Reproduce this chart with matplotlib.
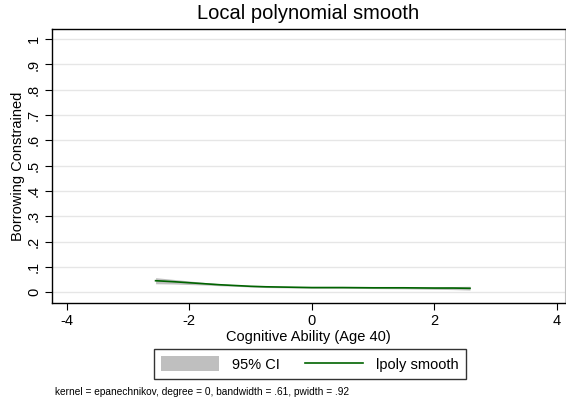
import matplotlib.pyplot as plt
from matplotlib.patches import Patch
from matplotlib.lines import Line2D

plt.rcParams['font.family'] = ['Liberation Sans', 'DejaVu Sans']

# valores
x = [-2.55, -2.25, -2.0, -1.75, -1.5, -1.25, -1.0, -0.75, -0.5, -0.25, 0.0, 0.5, 1.0, 1.5, 2.0, 2.3, 2.58]
smooth = [0.046, 0.042, 0.038, 0.034, 0.030, 0.027, 0.024, 0.022, 0.021, 0.020, 0.019, 0.019, 0.018, 0.018, 0.017, 0.017, 0.016]
ci_low = [0.034, 0.033, 0.031, 0.029, 0.026, 0.024, 0.021, 0.019, 0.018, 0.017, 0.016, 0.016, 0.015, 0.014, 0.012, 0.011, 0.009]
ci_high = [0.058, 0.051, 0.045, 0.039, 0.034, 0.030, 0.027, 0.025, 0.024, 0.023, 0.022, 0.022, 0.021, 0.022, 0.022, 0.023, 0.024]

xticks = [-4, -2, 0, 2, 4]
yticks = [0, .1, .2, .3, .4, .5, .6, .7, .8, .9, 1]
ylabels = ["0", ".1", ".2", ".3", ".4", ".5", ".6", ".7", ".8", ".9", "1"]

fig = plt.figure(figsize=(5.66, 4.04), dpi=100)
ax = fig.add_axes([52/566, 1 - 303/404, (565 - 52)/566, (303 - 29)/404])

ax.fill_between(x, ci_low, ci_high, color="#bfbfbf", lw=0)
ax.plot(x, smooth, color="#006400", lw=1.2)

ax.set_xlim(-4.24, 4.13)
ax.set_ylim(-0.042, 1.04)
ax.set_xticks(xticks)
ax.set_xticklabels([str(t) for t in xticks], fontsize=10.5)
ax.set_yticks(yticks)
ax.set_yticklabels(ylabels, fontsize=10.5, rotation=90, va="center")
ax.yaxis.grid(True, color="#e6e6e6", lw=1)
ax.set_axisbelow(True)
ax.tick_params(length=5, width=0.8, color="black", pad=3)

ax.spines["right"].set_color("#c0c0c0")
for s in ["left", "bottom", "top"]:
    ax.spines[s].set_linewidth(1)

ax.set_title("Local polynomial smooth", fontsize=14.5, pad=7)
ax.set_xlabel("Cognitive Ability (Age 40)", fontsize=10.5, labelpad=1)
ax.set_ylabel("Borrowing Constrained", fontsize=10.5, labelpad=1)

handles = [Patch(facecolor="#bfbfbf", edgecolor="none"),
           Line2D([0], [0], color="#006400", lw=1.2)]
leg = fig.legend(handles, ["95% CI", "lpoly smooth"], loc="center",
                 bbox_to_anchor=(310/566, 1 - 364/404), ncol=2, fontsize=10.5,
                 frameon=True, fancybox=False, edgecolor="black",
                 handlelength=4.0, handleheight=1.2, columnspacing=1.7,
                 borderpad=0.5, handletextpad=0.9)
leg.get_frame().set_linewidth(1)

fig.text(55/566, 1 - 392/404, "kernel = epanechnikov, degree = 0, bandwidth = .61, pwidth = .92",
         fontsize=7.3, va="center")

plt.savefig("out.png", dpi=100)
